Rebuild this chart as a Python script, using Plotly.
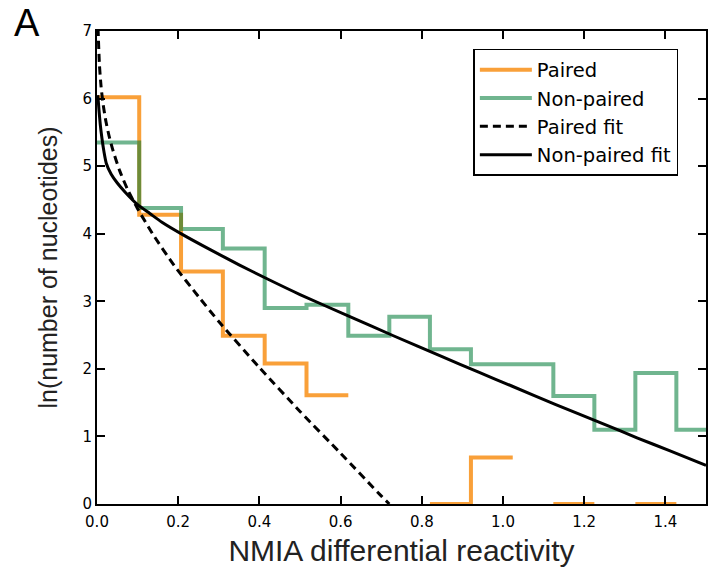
import plotly.graph_objects as go

# ---------------- data ----------------
bin_edges = [0.0, 0.104, 0.207, 0.310, 0.413, 0.516, 0.619, 0.720, 0.820,
             0.921, 1.024, 1.124, 1.225, 1.326, 1.427, 1.530]

# ln(count) per bin; None = empty bin (not drawn)
paired_ln = [6.02, 4.28, 3.44, 2.49, 2.08, 1.61, None, None, 0.0, 0.69,
             None, 0.0, None, 0.0, None]
nonpaired_ln = [5.35, 4.38, 4.07, 3.78, 2.90, 2.95, 2.49, 2.77, 2.29, 2.07,
                2.07, 1.60, 1.10, 1.94, 1.10]

paired_fit_x = [0.0025, 0.006, 0.010, 0.015, 0.022, 0.030, 0.040, 0.056, 0.075,
                0.10, 0.14, 0.19, 0.25, 0.30, 0.40, 0.50, 0.60, 0.70, 0.72]
paired_fit_y = [7.05, 6.50, 6.18, 5.92, 5.66, 5.44, 5.22, 4.93, 4.66,
                4.37, 3.97, 3.53, 3.07, 2.70, 2.02, 1.37, 0.75, 0.12, 0.0]

nonpaired_fit_x = [0.002, 0.005, 0.008, 0.012, 0.017, 0.023, 0.035, 0.05, 0.07,
                   0.10, 0.13, 0.16, 0.21, 0.28, 0.35, 0.42, 0.50, 0.62, 0.73,
                   0.85, 0.94, 1.02, 1.13, 1.25, 1.33, 1.41, 1.50]
nonpaired_fit_y = [6.05, 5.82, 5.62, 5.42, 5.22, 5.04, 4.88, 4.75, 4.61,
                   4.43, 4.30, 4.17, 3.99, 3.76, 3.54, 3.33, 3.10, 2.78, 2.49,
                   2.18, 1.95, 1.75, 1.47, 1.18, 0.98, 0.79, 0.57]

x_ticks = [0.0, 0.2, 0.4, 0.6, 0.8, 1.0, 1.2, 1.4]
x_tick_labels = ["0.0", "0.2", "0.4", "0.6", "0.8", "1.0", "1.2", "1.4"]
y_ticks = [0, 1, 2, 3, 4, 5, 6, 7]

ORANGE = "rgba(247,136,8,0.8)"
GREEN = "rgba(0,123,56,0.56)"


def step_xy(edges, vals):
    """Build x/y arrays for an 'hv' step line, breaking at empty bins."""
    xs, ys = [], []
    i, n = 0, len(vals)
    while i < n:
        if vals[i] is None:
            i += 1
            continue
        j = i
        while j + 1 < n and vals[j + 1] is not None:
            j += 1
        if xs:
            xs.append(None)
            ys.append(None)
        xs.extend(edges[i:j + 2])
        ys.extend(vals[i:j + 1] + [vals[j]])
        i = j + 1
    return xs, ys


px, py = step_xy(bin_edges, paired_ln)
nx, ny = step_xy(bin_edges, nonpaired_ln)

fig = go.Figure()
fig.add_trace(go.Scatter(x=px, y=py, mode="lines", name="Paired",
                         line=dict(color=ORANGE, width=4, shape="hv"),
                         connectgaps=False, legendgroup="a"))
fig.add_trace(go.Scatter(x=nx, y=ny, mode="lines", name="Non-paired",
                         line=dict(color=GREEN, width=4, shape="hv"),
                         connectgaps=False, legendgroup="b"))
fig.add_trace(go.Scatter(x=paired_fit_x, y=paired_fit_y, mode="lines",
                         name="Paired fit",
                         line=dict(color="black", width=3, dash="8px,5px",
                                   shape="spline", smoothing=0.6),
                         legendgroup="c"))
fig.add_trace(go.Scatter(x=nonpaired_fit_x, y=nonpaired_fit_y, mode="lines",
                         name="Non-paired fit",
                         line=dict(color="black", width=3,
                                   shape="spline", smoothing=0.6),
                         legendgroup="d"))

axis_common = dict(showgrid=False, zeroline=False, showline=True,
                   linecolor="black", linewidth=2, mirror="ticks",
                   ticks="inside", ticklen=8, tickwidth=1.5,
                   tickcolor="black",
                   tickfont=dict(family="DejaVu Sans", size=15, color="black"))

fig.update_layout(
    width=719, height=574,
    margin=dict(l=97, r=11, t=31, b=70),
    paper_bgcolor="white", plot_bgcolor="white",
    xaxis=dict(range=[0, 1.5], tickvals=x_ticks, ticktext=x_tick_labels,
               ticklabelstandoff=3,
               title=dict(text="NMIA differential reactivity",
                          font=dict(family="Liberation Sans", size=30,
                                    color="#222222"),
                          standoff=10),
               **axis_common),
    yaxis=dict(range=[0, 7], tickvals=y_ticks,
               title=dict(text="ln(number of nucleotides)",
                          font=dict(family="Liberation Sans", size=25,
                                    color="#222222"),
                          standoff=18),
               **axis_common),
    legend=dict(x=0.618, y=0.962, xanchor="left", yanchor="top",
                bordercolor="black", borderwidth=1.5, bgcolor="white",
                font=dict(family="DejaVu Sans", size=19.5, color="black"),
                itemwidth=52, tracegroupgap=0),
    showlegend=True,
    annotations=[dict(text="A", xref="paper", yref="paper",
                      x=-0.139, y=1.066, xanchor="left", yanchor="top",
                      showarrow=False,
                      font=dict(family="Liberation Sans", size=38,
                                color="black"))],
)

fig.write_html("out.html")
